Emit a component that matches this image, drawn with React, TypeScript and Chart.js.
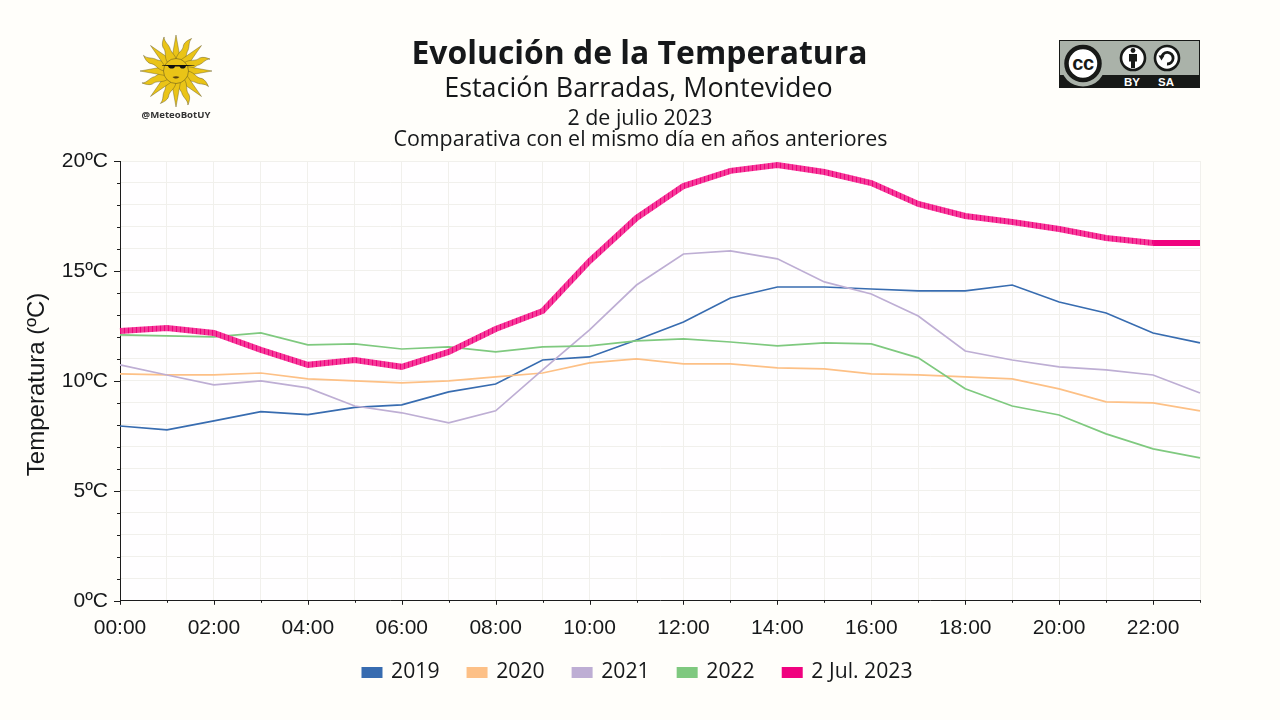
import React, { useEffect, useRef } from "react";
import { Chart, registerables } from "chart.js";

Chart.register(...registerables);

const hours = ["00:00","01:00","02:00","03:00","04:00","05:00","06:00","07:00","08:00","09:00","10:00","11:00","12:00","13:00","14:00","15:00","16:00","17:00","18:00","19:00","20:00","21:00","22:00","23:00"];
const temp2019 = [7.95,7.77,8.18,8.6,8.47,8.8,8.91,9.5,9.86,10.95,11.09,11.86,12.68,13.77,14.27,14.27,14.18,14.09,14.09,14.36,13.59,13.09,12.18,11.73];
const temp2020 = [10.32,10.27,10.27,10.36,10.09,10.0,9.91,10.0,10.18,10.36,10.82,11.0,10.77,10.77,10.59,10.55,10.32,10.27,10.18,10.09,9.64,9.05,9.0,8.64];
const temp2021 = [10.73,10.27,9.82,10.0,9.68,8.86,8.55,8.09,8.64,10.5,12.32,14.36,15.77,15.91,15.55,14.5,13.95,12.95,11.36,10.95,10.64,10.5,10.27,9.45];
const temp2022 = [12.09,12.05,12.0,12.18,11.64,11.68,11.45,11.55,11.32,11.55,11.59,11.82,11.91,11.77,11.59,11.73,11.68,11.05,9.64,8.86,8.45,7.59,6.91,6.5];
const temp2023 = [12.27,12.41,12.18,11.41,10.73,10.95,10.64,11.32,12.36,13.18,15.45,17.41,18.86,19.55,19.82,19.5,19.0,18.05,17.5,17.23,16.91,16.5,16.27,16.27];

const PAGE = "#fffefa";
const INK = "#16181a";
const PINK = "#f0027f";
const yAxisTitle = "Temperatura (ºC)";

const stripes = () => {
  const c = document.createElement("canvas");
  c.width = 4;
  c.height = 1;
  const g = c.getContext("2d")!;
  g.fillStyle = "#f43a98";
  g.fillRect(0, 0, 4, 1);
  g.fillStyle = PINK;
  g.fillRect(0, 0, 1, 1);
  return g.createPattern(c, "repeat")!;
};

const chromePlugin = {
  id: "chrome",
  beforeDraw(chart: any) {
    const { ctx, chartArea: a } = chart;
    ctx.save();
    ctx.fillStyle = "#fffeff";
    ctx.fillRect(a.left, a.top, a.right - a.left, a.bottom - a.top);
    ctx.restore();
  },
  afterLayout(chart: any) {
    const l = chart.legend;
    if (l) {
      l.left += 38;
      l.right += 38;
    }
    chart.scales.x.bottom += 16;
  },
  afterDatasetsDraw(chart: any) {
    const { ctx, chartArea: a, scales } = chart;
    ctx.save();
    ctx.strokeStyle = "#1c1c1c";
    ctx.lineWidth = 1;
    scales.y.ticks.forEach((t: any) => {
      const y = Math.round(scales.y.getPixelForValue(t.value)) + 0.5;
      const len = t.value % 5 === 0 ? 6 : 3;
      ctx.beginPath();
      ctx.moveTo(a.left - len, y);
      ctx.lineTo(a.left, y);
      ctx.stroke();
    });
    scales.x.ticks.forEach((_: any, i: number) => {
      const x = Math.round(scales.x.getPixelForTick(i)) + 0.5;
      const len = i % 2 === 0 ? 4 : 2;
      ctx.beginPath();
      ctx.moveTo(x, a.bottom);
      ctx.lineTo(x, a.bottom + len);
      ctx.stroke();
    });
    ctx.translate(37.5, (a.top + a.bottom) / 2 + 3.5);
    ctx.rotate(-Math.PI / 2);
    ctx.fillStyle = INK;
    ctx.font = "24px 'Liberation Sans'";
    ctx.textAlign = "center";
    ctx.textBaseline = "middle";
    ctx.fillText(yAxisTitle, 0, 0);
    ctx.restore();
  },
};

const rayAngles = Array.from({ length: 16 }, (_, i) => i * 22.5);

function SunLogo() {
  return (
    <svg width="90" height="100" viewBox="-45 -45 90 100" style={{ position: "absolute", left: 131, top: 26 }}>
      {rayAngles.map((a, i) =>
        i % 2 === 0 ? (
          <path key={a} transform={`rotate(${a})`} d="M-4.5,-11 L0,-36 L4.5,-11 Z" fill="#eac417" stroke="#5c5222" strokeWidth="0.4" />
        ) : (
          <path key={a} transform={`rotate(${a})`} d="M-4.5,-11 C-6,-18 -1,-21 -3,-27 C-3,-30 -1,-33 2,-36 C0,-31 4,-27 3,-22 C3,-18 5.5,-15 4.5,-11 Z" fill="#eac417" stroke="#5c5222" strokeWidth="0.4" />
        )
      )}
      <circle r="12.5" fill="#eac417" stroke="#6a5d1f" strokeWidth="0.6" />
      <path d="M-14,-6 L19,-6 L18,-5.4 L10,-5 C9,-1.6 5,-1.6 3.5,-4.6 L-1,-4.6 C-2,-1.6 -7,-1.6 -8,-5 L-14,-5.4 Z" fill="#111" />
      <path d="M-3.5,6 C-1,5 1,5 3.5,6 C1,8 -1,8 -3.5,6 Z" fill="#5b430f" />
      <text x="0" y="47" textAnchor="middle" fontFamily="'Open Sans'" fontWeight="700" fontSize="9.6" fill="#333">@MeteoBotUY</text>
    </svg>
  );
}

function CcBadge() {
  return (
    <svg width="141" height="48" viewBox="0 0 141 48" style={{ position: "absolute", left: 1059, top: 40 }}>
      <rect width="141" height="48" fill="#171917" />
      <rect x="1" y="1" width="139" height="34" fill="#aab2a9" />
      <circle cx="24" cy="24" r="22.5" fill="#aab2a9" />
      <circle cx="24" cy="23.5" r="16.5" fill="#fff" stroke="#171917" strokeWidth="4.5" />
      <text x="24" y="30" textAnchor="middle" fontFamily="'Liberation Sans'" fontWeight="700" fontSize="20" letterSpacing="-0.4" fill="#171917">cc</text>
      <circle cx="74" cy="18" r="12" fill="#fff" stroke="#171917" strokeWidth="2.6" />
      <circle cx="74" cy="10.5" r="2.4" fill="#171917" />
      <path d="M70,14 H78 V21.5 H76 V28 H72 V21.5 H70 Z" fill="#171917" />
      <circle cx="108" cy="18" r="12" fill="#fff" stroke="#171917" strokeWidth="2.6" />
      <path d="M102.5,18 A5.8,5.8 0 1 1 108,24" fill="none" stroke="#171917" strokeWidth="2.8" />
      <path d="M99.5,15.5 L105.5,15.5 L102.5,20.5 Z" fill="#171917" />
      <text x="73" y="46" textAnchor="middle" fontFamily="'Liberation Sans'" fontWeight="700" fontSize="11.5" fill="#fff">BY</text>
      <text x="107" y="46" textAnchor="middle" fontFamily="'Liberation Sans'" fontWeight="700" fontSize="11.5" fill="#fff">SA</text>
    </svg>
  );
}

const titleLine = (text: string, top: number, size: number, weight: number, width = 1279) => (
  <div style={{ position: "absolute", left: 0, width, top, textAlign: "center", fontFamily: "'Open Sans'", fontSize: size, fontWeight: weight, color: INK, lineHeight: "1", whiteSpace: "nowrap" }}>
    {text}
  </div>
);

export default function App() {
  const ref = useRef<HTMLCanvasElement>(null);
  useEffect(() => {
    document.body.style.margin = "0";
    document.body.style.background = PAGE;
    const mk = (label: string, data: number[], color: any, width: number, order: number, legendColor: string) => ({
      label, data, borderColor: color, backgroundColor: legendColor, borderWidth: width, pointRadius: 0, tension: 0, order,
    });
    const pink = mk("2 Jul. 2023", temp2023, stripes(), 6, 1, PINK) as any;
    pink.segment = { borderColor: (c: any) => (c.p0.parsed.y === c.p1.parsed.y ? PINK : undefined) };
    const colors = ["#386cb0", "#fdc086", "#beaed4", "#7fc97f", PINK];
    const chart = new Chart(ref.current!, {
      type: "line",
      data: {
        labels: hours,
        datasets: [
          mk("2019", temp2019, colors[0], 1.7, 5, colors[0]),
          mk("2020", temp2020, colors[1], 1.7, 4, colors[1]),
          mk("2021", temp2021, colors[2], 1.7, 3, colors[2]),
          mk("2022", temp2022, colors[3], 1.7, 2, colors[3]),
          pink,
        ],
      },
      plugins: [chromePlugin],
      options: {
        animation: false,
        responsive: false,
        layout: { padding: { left: 0, right: 80, top: 161, bottom: 27 } },
        scales: {
          x: {
            afterFit: (s: any) => { s.height = 32; },
            grid: { color: "#f1f0ec", drawTicks: false, lineWidth: 1 },
            border: { color: "#1c1c1c", width: 1 },
            ticks: {
              autoSkip: false, maxRotation: 0, padding: 15, color: INK,
              font: { family: "'Liberation Sans'", size: 21 },
              callback: (_: any, i: number) => (i % 2 === 0 ? hours[i] : ""),
            },
          },
          y: {
            afterFit: (s: any) => { s.width = 120; },
            min: 0, max: 20,
            grid: { color: "#f1f0ec", drawTicks: false, lineWidth: 1 },
            border: { color: "#1c1c1c", width: 1 },
            ticks: {
              stepSize: 1, autoSkip: false, padding: 12, color: INK,
              font: { family: "'Liberation Sans'", size: 21 },
              callback: (v: any) => (v % 5 === 0 ? `${v}ºC` : ""),
            },
          },
        },
        plugins: {
          tooltip: { enabled: false },
          title: { display: false },
          legend: {
            position: "bottom",
            align: "center",
            labels: {
              boxWidth: 17, boxHeight: 7, padding: 29, color: INK,
              font: { family: "'Open Sans'", size: 21.2 },
              sort: (a: any, b: any) => a.datasetIndex - b.datasetIndex,
              generateLabels: (c: any) =>
                c.data.datasets.map((d: any, i: number) => ({
                  text: d.label, datasetIndex: i, fillStyle: colors[i], strokeStyle: colors[i], lineWidth: 4, fontColor: INK,
                })),
            },
          },
        },
      },
    } as any);
    return () => chart.destroy();
  }, []);
  return (
    <div style={{ position: "relative", width: 1280, height: 720, overflow: "hidden", background: PAGE }}>
      <canvas ref={ref} width={1280} height={720} style={{ display: "block" }} />
      {titleLine("Evolución de la Temperatura", 36, 31.9, 700)}
      {titleLine("Estación Barradas, Montevideo", 74, 26.9, 400, 1277)}
      {titleLine("2 de julio 2023", 106, 21.4, 400, 1280)}
      {titleLine("Comparativa con el mismo día en años anteriores", 127, 21.4, 400, 1281)}
      <SunLogo />
      <CcBadge />
    </div>
  );
}
